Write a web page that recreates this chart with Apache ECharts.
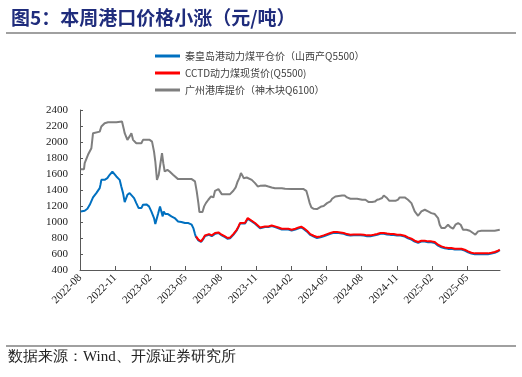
<!DOCTYPE html>
<html>
<head>
<meta charset="utf-8">
<script src="https://cdn.jsdelivr.net/npm/echarts@6/dist/echarts.min.js"></script>
<style>
  html, body { margin: 0; padding: 0; background: #fff; }
  #chart { width: 522px; height: 377px; }
</style>
</head>
<body>
<div id="chart"></div>
<script>
// x positions are months counted from 2022-08
const startYear = 2022;
const startMonth = 8;
const yTicks = { min: 400, max: 2400, step: 200 };

const seriesNames = ['秦皇岛港动力煤平仓价（山西产Q5500）', 'CCTD动力煤现货价(Q5500)', '广州港库提价（神木块Q6100）'];

// 秦皇岛港, before the CCTD series starts
const qhdEarlyX = [0.06, 0.40, 0.63, 0.83, 1.11, 1.39, 1.68, 1.75, 1.82, 2.10, 2.33, 2.53, 2.76, 2.90, 3.10, 3.38, 3.52, 3.67, 3.81, 3.89,
  4.04, 4.23, 4.38, 4.61, 4.80, 5.00, 5.23, 5.37, 5.66, 5.88, 6.08, 6.31, 6.42, 6.53, 6.65, 6.82, 6.93, 7.05, 7.13, 7.28,
  7.50, 7.79, 8.07, 8.36, 8.64, 8.95, 9.24, 9.52, 9.66, 9.80];
const qhdEarlyY = [1132, 1140, 1165, 1215, 1307, 1361, 1423, 1470, 1527, 1527, 1548, 1590, 1631, 1610, 1569, 1527, 1444, 1361, 1249, 1257,
  1340, 1361, 1350, 1299, 1236, 1174, 1174, 1215, 1220, 1195, 1132, 1049, 974, 985, 1099, 1195, 1185, 1070, 1132, 1099,
  1099, 1070, 1049, 1007, 1000, 987, 987, 966, 924, 849];

// CCTD
const cctdX = [9.89, 10.09, 10.32, 10.52, 10.66, 10.80, 11.00, 11.23, 11.51, 11.66, 11.80, 12.08, 12.36, 12.59, 12.79, 13.07, 13.22, 13.36, 13.51, 13.64,
  13.78, 14.07, 14.30, 14.41, 14.64, 14.92, 15.06, 15.35, 15.49, 15.77, 16.06, 16.34, 16.62, 16.91, 17.20, 17.48, 17.76, 18.04, 18.36, 18.64,
  18.86, 19.06, 19.35, 19.63, 19.92, 20.20, 20.49, 20.77, 21.06, 21.34, 21.63, 21.91, 22.19, 22.48, 22.76, 23.05, 23.33, 23.62, 23.90, 24.19,
  24.47, 24.76, 25.04, 25.33, 25.61, 25.89, 26.17, 26.46, 26.74, 27.03, 27.31, 27.68, 27.96, 28.25, 28.53, 28.82, 29.10, 29.39, 29.67, 29.95,
  30.24, 30.52, 30.81, 31.09, 31.37, 31.66, 31.95, 32.23, 32.51, 32.79, 33.08, 33.36, 33.65, 33.93, 34.22, 34.50, 34.78, 35.07, 35.35, 35.64, 35.78];
const cctdY = [820, 779, 758, 800, 833, 825, 849, 833, 862, 883, 870, 841, 820, 800, 805, 849, 862, 903, 945, 987,
  1000, 990, 1049, 1035, 1016, 987, 966, 932, 945, 945, 945, 957, 945, 932, 916, 916, 916, 903, 916, 932,
  941, 924, 891, 849, 828, 812, 820, 833, 849, 862, 874, 874, 870, 862, 849, 841, 845, 845, 845, 841,
  833, 833, 841, 850, 862, 862, 855, 849, 849, 841, 841, 828, 808, 791, 766, 750, 766, 766, 758, 758,
  750, 716, 695, 683, 675, 675, 666, 666, 666, 654, 633, 616, 608, 608, 608, 608, 608, 616, 625, 641, 654];

// 秦皇岛港, same dates as CCTD from 2023-06 on
const qhdLateY = [812, 770, 750, 790, 826, 818, 840, 822, 852, 876, 862, 832, 810, 790, 797, 840, 853, 895, 938, 980,
  992, 982, 1040, 1026, 1008, 978, 958, 922, 935, 936, 936, 948, 936, 922, 906, 906, 906, 893, 906, 922,
  931, 914, 880, 838, 817, 800, 808, 822, 838, 852, 864, 865, 860, 852, 838, 830, 835, 835, 835, 831,
  822, 823, 831, 840, 852, 852, 845, 839, 838, 830, 830, 817, 797, 780, 755, 740, 755, 755, 747, 747,
  738, 705, 684, 672, 664, 664, 655, 655, 655, 643, 622, 606, 598, 598, 598, 598, 598, 606, 616, 634, 649];

// 广州港
const gzX = [0.06, 0.34, 0.40, 0.68, 0.97, 1.11, 1.25, 1.68, 1.82, 2.10, 2.39, 3.10, 3.24, 3.58, 3.72, 3.81, 4.04, 4.23, 4.38, 4.52,
  4.80, 5.23, 5.37, 5.94, 6.14, 6.31, 6.42, 6.56, 6.71, 6.88, 6.99, 7.10, 7.22, 7.45, 7.64, 7.93, 8.36, 8.95, 9.52, 9.66,
  9.80, 9.95, 10.09, 10.18, 10.44, 10.58, 10.73, 10.84, 10.94, 11.09, 11.17, 11.37, 11.51, 11.66, 11.80, 11.94, 12.08, 12.79, 12.93, 13.07,
  13.27, 13.44, 13.58, 13.72, 13.84, 13.95, 14.07, 14.21, 14.35, 14.64, 14.92, 15.15, 15.35, 15.49, 15.77, 16.06, 16.34, 16.62, 17.20, 17.48,
  18.04, 18.64, 19.06, 19.29, 19.43, 19.58, 19.72, 19.92, 20.20, 20.35, 20.58, 20.77, 21.06, 21.34, 21.49, 21.63, 21.77, 21.91, 22.34, 22.56,
  22.76, 23.05, 23.62, 23.76, 24.05, 24.33, 24.61, 24.90, 25.13, 25.33, 25.52, 25.75, 25.89, 26.03, 26.17, 26.37, 26.89, 27.11, 27.25, 27.39,
  27.68, 27.96, 28.25, 28.53, 28.82, 29.10, 29.39, 29.67, 29.95, 30.24, 30.52, 30.66, 30.81, 31.09, 31.37, 31.60, 31.80, 32.00, 32.23, 32.45,
  32.65, 32.94, 33.22, 33.50, 33.70, 33.93, 34.22, 34.78, 35.35, 35.78];
const gzY = [1660, 1660, 1735, 1840, 1922, 2110, 2130, 2130, 2193, 2235, 2247, 2247, 2255, 2255, 2170, 2110, 2027, 2070, 2110, 2027,
  1985, 1985, 2027, 2027, 2005, 1880, 1756, 1527, 1590, 1756, 1860, 1735, 1631, 1652, 1631, 1590, 1536, 1536, 1536, 1536,
  1507, 1382, 1236, 1124, 1124, 1195, 1236, 1215, 1278, 1260, 1319, 1307, 1390, 1382, 1411, 1405, 1348, 1348, 1360, 1390,
  1432, 1507, 1548, 1611, 1582, 1548, 1569, 1556, 1540, 1527, 1486, 1444, 1452, 1465, 1457, 1444, 1432, 1423, 1423, 1415,
  1411, 1411, 1411, 1390, 1319, 1236, 1182, 1165, 1161, 1170, 1195, 1200, 1236, 1257, 1290, 1265, 1319, 1332, 1332, 1332,
  1307, 1290, 1290, 1285, 1278, 1278, 1249, 1249, 1255, 1278, 1285, 1300, 1332, 1332, 1299, 1265, 1265, 1280, 1307, 1332,
  1307, 1278, 1236, 1132, 1078, 1132, 1153, 1132, 1111, 1099, 1049, 966, 924, 924, 966, 932, 916, 966, 987, 966,
  903, 903, 891, 862, 841, 883, 891, 891, 891, 903];

const zip = (xs, ys) => xs.map((x, i) => [x, ys[i]]);
const qhdX = qhdEarlyX.concat(cctdX);
const qhdY = qhdEarlyY.concat(qhdLateY);

function monthLabel(v) {
  if (Math.abs(v - Math.round(v)) > 0.01 || Math.round(v) % 3 !== 0) return '';
  let total = startMonth - 1 + Math.round(v);
  let y = startYear + Math.floor(total / 12);
  let m = total % 12 + 1;
  return y + '-' + (m < 10 ? '0' + m : m);
}

const serif = "'Times New Roman', 'Liberation Serif', serif";
const cjk = 'Noto Sans CJK SC';

let chart = echarts.init(document.getElementById('chart'));
let option = {
  animation: false,
  color: ['#0070C0', '#FF0000', '#7F7F7F'],
  title: {
    text: '图5：本周港口价格小涨（元/吨）',
    left: 6,
    top: 3,
    textStyle: {
      fontFamily: cjk,
      fontSize: 19,
      fontWeight: 'bold',
      color: '#1F2C7C'
    }
  },
  graphic: [
    { type: 'line', shape: { x1: 6, y1: 33, x2: 516, y2: 33 }, style: { stroke: '#808080', lineWidth: 1.5 } },
    { type: 'line', shape: { x1: 6, y1: 346, x2: 516, y2: 346 }, style: { stroke: '#808080', lineWidth: 1.5 } },
    {
      type: 'text', left: 8, top: 350,
      style: { text: '数据来源：Wind、开源证券研究所', fontFamily: serif, fontSize: 15, fill: '#222' }
    }
  ],
  legend: {
    orient: 'vertical',
    left: 150,
    top: 46,
    itemGap: 7,
    itemWidth: 25,
    itemHeight: 3,
    icon: 'rect',
    textStyle: { fontFamily: cjk, fontSize: 10, color: '#404040' },
    data: seriesNames
  },
  grid: { left: 80, right: 22, top: 110, bottom: 107 },
  xAxis: {
    type: 'value',
    min: 0,
    max: 35.8,
    interval: 3,
    splitLine: { show: false },
    axisLine: { lineStyle: { color: '#595959', width: 1 } },
    axisTick: { inside: true, length: 4, lineStyle: { color: '#595959' } },
    axisLabel: {
      rotate: 45,
      margin: 6,
      showMaxLabel: false,
      fontFamily: serif,
      fontSize: 11,
      color: '#222',
      formatter: monthLabel
    }
  },
  yAxis: {
    type: 'value',
    min: yTicks.min,
    max: yTicks.max,
    interval: yTicks.step,
    splitLine: { show: false },
    axisLine: { show: true, lineStyle: { color: '#595959', width: 1 } },
    axisTick: { show: true, inside: true, length: 3, lineStyle: { color: '#595959' } },
    axisLabel: { margin: 12, fontFamily: serif, fontSize: 11, color: '#222', formatter: v => String(v) }
  },
  series: [
    { name: seriesNames[0], type: 'line', showSymbol: false, lineStyle: { width: 2 }, data: zip(qhdX, qhdY) },
    { name: seriesNames[1], type: 'line', showSymbol: false, lineStyle: { width: 2 }, data: zip(cctdX, cctdY) },
    { name: seriesNames[2], type: 'line', showSymbol: false, lineStyle: { width: 2 }, data: zip(gzX, gzY) }
  ]
};
chart.setOption(option);
</script>
</body>
</html>
